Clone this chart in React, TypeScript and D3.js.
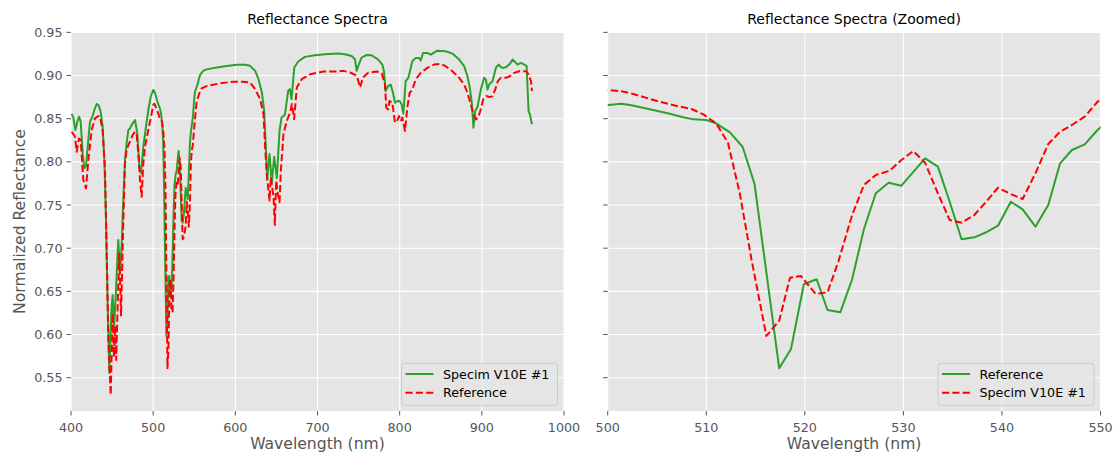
import React from "react";
import * as d3 from "d3";

// ---- Data ----
const specimWl = [
  400.8, 402.8, 405.3, 407.7, 409.7, 411.8, 414.2, 416.2, 418.3, 421.1, 423.1, 426.0, 428.4, 431.2, 433.7, 436.1,
  438.5, 440.6, 442.6, 444.6, 446.6, 449.3, 450.7, 452.5, 454.5, 456.5, 457.6, 459.6, 461.5, 463.0, 465.7, 467.7,
  469.8, 471.8, 475.1, 477.9, 480.7, 483.2, 485.2, 488.0, 491.3, 494.1, 497.0, 500.06, 501.4, 502.6, 505.0, 507.0,
  508.5, 509.7, 511.0, 512.2, 513.4, 514.6, 516.1, 517.4, 518.5, 519.6, 521.1, 522.3, 523.4, 524.8, 526.0, 527.2,
  528.6, 529.8, 531.0, 532.2, 533.5, 534.7, 535.9, 537.2, 538.4, 539.6, 540.9, 542.1, 543.4, 544.7, 545.9, 547.1,
  548.4, 549.7, 550.9, 553.8, 557.0, 561.1, 565.1, 577.3, 589.5, 601.6, 611.8, 618.0, 624.1, 628.2, 632.3, 635.1,
  637.5, 638.7, 641.6, 644.4, 647.3, 650.5, 653.8, 656.3, 660.3, 664.3, 666.4, 668.4, 671.7, 676.5, 684.6, 696.8,
  709.0, 725.2, 733.4, 741.5, 745.6, 747.6, 749.6, 753.7, 759.8, 765.8, 774.0, 778.9, 780.9, 782.9, 785.8, 789.0,
  791.9, 794.3, 797.2, 800.0, 802.4, 804.5, 807.3, 810.6, 815.4, 819.5, 823.6, 825.6, 828.5, 833.7, 837.8, 839.8,
  845.9, 856.1, 864.2, 872.4, 878.5, 882.5, 885.4, 887.8, 889.8, 891.9, 894.7, 898.8, 902.8, 904.9, 906.9, 909.0,
  913.0, 917.1, 920.3, 924.4, 929.3, 934.1, 937.4, 941.5, 943.5, 947.6, 951.6, 954.5, 956.9, 958.5, 961.0,
];
const specimVal = [
  0.8554, 0.8515, 0.8369, 0.8465, 0.8523, 0.8465, 0.8098, 0.7925, 0.7952, 0.8253, 0.8465, 0.8523, 0.86, 0.867, 0.8654, 0.8581,
  0.8407, 0.8021, 0.7326, 0.6361, 0.5555, 0.63, 0.6458, 0.61, 0.645, 0.69, 0.7095, 0.671, 0.7, 0.74, 0.8021, 0.8214,
  0.8369, 0.8388, 0.8446, 0.8485, 0.833, 0.7944, 0.7867, 0.8175, 0.8407, 0.86, 0.8754, 0.8832, 0.8817, 0.8786, 0.8704, 0.8647,
  0.8612, 0.855, 0.8446, 0.8222, 0.7636, 0.6863, 0.5983, 0.616, 0.6658, 0.6678, 0.6469, 0.6489, 0.6843, 0.7384, 0.7732, 0.7847,
  0.7897, 0.8021, 0.8125, 0.799, 0.7636, 0.7326, 0.7295, 0.7384, 0.7538, 0.77, 0.7627, 0.757, 0.7867, 0.8207, 0.8349, 0.8427,
  0.8523, 0.8696, 0.8812, 0.889, 0.9006, 0.9056, 0.9071, 0.9094, 0.911, 0.9125, 0.9125, 0.9112, 0.9054, 0.8958, 0.8803, 0.8592,
  0.809, 0.779, 0.809, 0.776, 0.806, 0.781, 0.836, 0.8514, 0.8545, 0.8823, 0.8842, 0.8726, 0.9092, 0.9162, 0.9216, 0.9235,
  0.9247, 0.9254, 0.9247, 0.9227, 0.9189, 0.9054, 0.9112, 0.9208, 0.9239, 0.9235, 0.9185, 0.9127, 0.905, 0.8819, 0.8877, 0.8896,
  0.88, 0.8685, 0.8704, 0.8704, 0.8665, 0.8558, 0.8935, 0.8973, 0.9165, 0.9204, 0.9204, 0.9173, 0.9262, 0.9262, 0.9242, 0.9254,
  0.9288, 0.9281, 0.9254, 0.9185, 0.9108, 0.8992, 0.8858, 0.8685, 0.8396, 0.8588, 0.8635, 0.8838, 0.8973, 0.8954, 0.8838, 0.8896,
  0.8935, 0.9088, 0.9127, 0.9088, 0.9096, 0.9135, 0.9185, 0.9146, 0.9127, 0.9146, 0.9127, 0.9108, 0.8588, 0.855, 0.8435,
];

const refWl = [
  400.8, 404.9, 406.9, 409.7, 411.8, 415.0, 418.3, 421.1, 425.2, 429.2, 433.3, 435.3, 438.5, 441.4, 443.4, 445.4,
  448.3, 450.7, 452.3, 453.8, 455.0, 457.0, 458.8, 460.9, 463.7, 465.7, 467.7, 469.8, 471.8, 475.1, 477.9, 479.9,
  482.0, 484.0, 486.0, 488.0, 490.1, 494.1, 498.2, 500.06, 501.4, 502.4, 504.6, 506.3, 507.65, 508.7, 510.0, 511.0,
  512.4, 513.7, 514.9, 517.4, 518.6, 519.9, 521.2, 522.3, 523.6, 524.8, 526.0, 527.2, 528.5, 529.8, 532.2, 533.5,
  534.7, 535.9, 537.2, 538.4, 539.6, 540.9, 542.1, 543.4, 544.7, 545.9, 547.1, 548.4, 549.7, 552.9, 556.2, 559.0,
  565.1, 581.3, 597.6, 609.7, 618.0, 624.1, 630.2, 634.3, 636.3, 638.3, 641.6, 643.2, 646.5, 648.1, 649.7, 651.8,
  653.8, 655.4, 658.6, 662.7, 666.7, 668.8, 671.6, 674.8, 680.9, 691.1, 707.3, 723.5, 731.6, 739.8, 747.9, 751.9,
  755.2, 762.1, 772.2, 778.3, 782.1, 783.7, 786.2, 787.5, 791.1, 794.0, 796.0, 799.2, 801.2, 803.3, 806.5, 809.3,
  812.2, 815.4, 819.5, 825.6, 833.7, 841.9, 850.0, 856.0, 864.2, 872.4, 878.5, 882.5, 886.6, 889.8, 892.7, 895.5,
  898.8, 901.6, 905.7, 909.8, 913.0, 916.3, 919.5, 923.2, 929.3, 934.1, 939.4, 945.5, 953.7, 956.9, 959.8, 961.0,
];
const refVal = [
  0.8349, 0.8291, 0.8117, 0.8271, 0.8252, 0.7789, 0.7693, 0.8021, 0.8369, 0.8504, 0.8531, 0.8523, 0.8369, 0.7905, 0.694, 0.5975,
  0.53, 0.6246, 0.5743, 0.61, 0.5705, 0.64, 0.694, 0.622, 0.7326, 0.7982, 0.8137, 0.8195, 0.8234, 0.8311, 0.8349, 0.8311,
  0.8098, 0.7789, 0.7597, 0.7983, 0.8175, 0.8369, 0.8561, 0.8658, 0.8673, 0.8655, 0.86, 0.8558, 0.8516, 0.8492, 0.8484, 0.8446,
  0.8342, 0.8172, 0.7743, 0.5609, 0.5833, 0.6582, 0.664, 0.6284, 0.6257, 0.664, 0.7222, 0.7636, 0.7758, 0.7724, 0.8041, 0.7944,
  0.7538, 0.7103, 0.7126, 0.7184, 0.726, 0.7538, 0.745, 0.7249, 0.75, 0.7983, 0.8137, 0.8203, 0.8369, 0.8697, 0.8794, 0.8851,
  0.8878, 0.8909, 0.8929, 0.8929, 0.8919, 0.8842, 0.8726, 0.8553, 0.8168, 0.786, 0.7551, 0.7821, 0.759, 0.727, 0.7782, 0.7628,
  0.7532, 0.7898, 0.8322, 0.8476, 0.8572, 0.8669, 0.8495, 0.8861, 0.8958, 0.9015, 0.9046, 0.9046, 0.9054, 0.9035, 0.8996, 0.8861,
  0.8977, 0.9035, 0.9046, 0.9023, 0.8896, 0.8627, 0.8608, 0.8704, 0.8685, 0.8473, 0.8454, 0.853, 0.8473, 0.8512, 0.8358, 0.8627,
  0.88, 0.8838, 0.8954, 0.9031, 0.9088, 0.9127, 0.9135, 0.9108, 0.905, 0.8973, 0.8896, 0.88, 0.8665, 0.855, 0.8492, 0.8512,
  0.8608, 0.8723, 0.8762, 0.875, 0.8762, 0.8838, 0.8935, 0.8973, 0.8973, 0.8992, 0.9031, 0.905, 0.905, 0.9012, 0.8935, 0.8819,
];

const yTicks = [0.55, 0.6, 0.65, 0.7, 0.75, 0.8, 0.85, 0.9, 0.95];
const xTicksLeft = [400, 500, 600, 700, 800, 900, 1000];
const xTicksRight = [500, 510, 520, 530, 540, 550];

const GREEN = "#2ca02c";
const RED = "#ff0000";
const FONT = "DejaVu Sans, sans-serif";

type Pt = [number, number];
const specimPts: Pt[] = specimWl.map((w, i) => [w, specimVal[i]]);
const refPts: Pt[] = refWl.map((w, i) => [w, refVal[i]]);

const TOP = 32;
const BOTTOM = 411;
const yScale = d3.scaleLinear().domain([0.5114, 0.9504]).range([BOTTOM, TOP]);

interface PanelProps {
  id: string;
  x0: number;
  x1: number;
  domain: [number, number];
  xTicks: number[];
  title: string;
  showYLabels: boolean;
  solid: { pts: Pt[]; name: string };
  dashed: { pts: Pt[]; name: string };
}

function Panel({ id, x0, x1, domain, xTicks, title, showYLabels, solid, dashed }: PanelProps) {
  const xScale = d3.scaleLinear().domain(domain).range([x0, x1]);
  const line = d3
    .line<Pt>()
    .x((d) => xScale(d[0]))
    .y((d) => yScale(d[1]));
  const cx = (x0 + x1) / 2;
  const legX = x1 - 162.5;
  const legY = 363.3;
  return (
    <g>
      <defs>
        <clipPath id={id}>
          <rect x={x0} y={TOP} width={x1 - x0} height={BOTTOM - TOP} />
        </clipPath>
      </defs>
      <rect x={x0} y={TOP} width={x1 - x0} height={BOTTOM - TOP} fill="#e5e5e5" />
      {yTicks.map((t) => (
        <line key={"gy" + t} x1={x0} x2={x1} y1={yScale(t)} y2={yScale(t)} stroke="#ffffff" strokeWidth={1.1} />
      ))}
      {xTicks.map((t) => (
        <line key={"gx" + t} x1={xScale(t)} x2={xScale(t)} y1={TOP} y2={BOTTOM} stroke="#ffffff" strokeWidth={1.1} />
      ))}
      <g clipPath={`url(#${id})`}>
        <path d={line(solid.pts) || ""} fill="none" stroke={GREEN} strokeWidth={2} strokeLinejoin="round" />
        <path
          d={line(dashed.pts) || ""}
          fill="none"
          stroke={RED}
          strokeWidth={2}
          strokeDasharray="7.2 3.1"
          strokeLinejoin="round"
        />
      </g>
      {yTicks.map((t) => (
        <g key={"ty" + t}>
          <line x1={x0 - 4.5} x2={x0} y1={yScale(t)} y2={yScale(t)} stroke="#555555" strokeWidth={1} />
          {showYLabels && (
            <text x={x0 - 8.5} y={yScale(t) + 4.6} textAnchor="end" fontSize={12.7} fill="#555555" fontFamily={FONT}>
              {t.toFixed(2)}
            </text>
          )}
        </g>
      ))}
      {xTicks.map((t) => (
        <g key={"tx" + t}>
          <line x1={xScale(t)} x2={xScale(t)} y1={BOTTOM} y2={BOTTOM + 4.5} stroke="#555555" strokeWidth={1} />
          <text x={xScale(t)} y={431.5} textAnchor="middle" fontSize={12.7} fill="#555555" fontFamily={FONT}>
            {t}
          </text>
        </g>
      ))}
      <text x={cx} y={23.5} textAnchor="middle" fontSize={14} fill="#000000" fontFamily={FONT}>
        {title}
      </text>
      <text x={cx} y={449} textAnchor="middle" fontSize={15.6} fill="#555555" fontFamily={FONT}>
        Wavelength (nm)
      </text>
      <g>
        <rect
          x={legX}
          y={legY}
          width={156}
          height={42}
          rx={3}
          fill="#e5e5e5"
          fillOpacity={0.8}
          stroke="#cccccc"
          strokeWidth={1}
        />
        <line x1={legX + 4} x2={legX + 32} y1={legY + 10.7} y2={legY + 10.7} stroke={GREEN} strokeWidth={2} />
        <text x={legX + 41.5} y={legY + 15.2} fontSize={12.7} fill="#000000" fontFamily={FONT}>
          {solid.name}
        </text>
        <line
          x1={legX + 4}
          x2={legX + 32}
          y1={legY + 29.4}
          y2={legY + 29.4}
          stroke={RED}
          strokeWidth={2}
          strokeDasharray="7.2 3.1"
        />
        <text x={legX + 41.5} y={legY + 33.9} fontSize={12.7} fill="#000000" fontFamily={FONT}>
          {dashed.name}
        </text>
      </g>
    </g>
  );
}

export default function App() {
  return (
    <svg
      width={1118}
      height={454}
      style={{ position: "absolute", left: 0, top: 0, display: "block", background: "#ffffff" }}
    >
      <rect x={0} y={0} width={1118} height={454} fill="#ffffff" />
      <Panel
        id="clipL"
        x0={71}
        x1={564}
        domain={[400, 1000]}
        xTicks={xTicksLeft}
        title="Reflectance Spectra"
        showYLabels={true}
        solid={{ pts: specimPts, name: "Specim V10E #1" }}
        dashed={{ pts: refPts, name: "Reference" }}
      />
      <Panel
        id="clipR"
        x0={607.7}
        x1={1100.5}
        domain={[500, 550]}
        xTicks={xTicksRight}
        title="Reflectance Spectra (Zoomed)"
        showYLabels={false}
        solid={{ pts: refPts, name: "Reference" }}
        dashed={{ pts: specimPts, name: "Specim V10E #1" }}
      />
      <text
        transform="translate(24.5,221.5) rotate(-90)"
        textAnchor="middle"
        fontSize={15.6}
        fill="#555555"
        fontFamily={FONT}
      >
        Normalized Reflectance
      </text>
    </svg>
  );
}
